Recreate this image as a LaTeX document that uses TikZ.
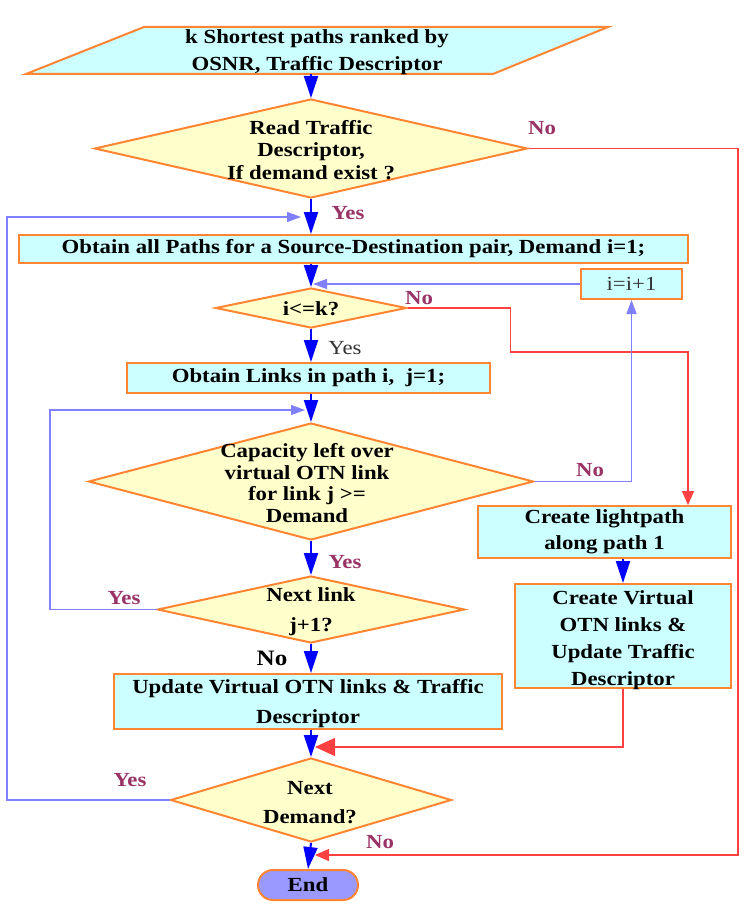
\documentclass[tikz,border=0pt]{standalone}
\usepackage{fontspec}
\setmainfont{Liberation Serif}[FakeStretch=1.14]
\usetikzlibrary{shapes.geometric,arrows.meta,calc}
\definecolor{boxfill}{HTML}{CCFFFF}
\definecolor{dfill}{HTML}{FFFFCC}
\definecolor{bord}{HTML}{FF8533}
\definecolor{mainblue}{HTML}{0000FF}
\definecolor{fbblue}{HTML}{8080FF}
\definecolor{redline}{HTML}{FF4040}
\definecolor{lab}{HTML}{993366}
\definecolor{endfill}{HTML}{9999FF}
\begin{document}
\begin{tikzpicture}[x=1pt,y=-1pt,
  txt/.style={inner sep=0pt, align=center, font=\fontsize{20}{22}\selectfont\bfseries},
  box/.style={draw=bord, line width=2pt, fill=boxfill, rectangle, inner sep=0pt, align=center, font=\fontsize{20}{22}\selectfont\bfseries},
  dec/.style={draw=bord, line width=2pt, fill=dfill, diamond, inner sep=0pt},
  mainarr/.style={draw=mainblue, line width=2pt, -{Triangle[width=14pt,length=22pt]}},
  fb/.style={draw=fbblue, line width=1.3pt, -{Triangle[width=10pt,length=14pt]}},
  redarr/.style={draw=redline, line width=1.3pt, -{Triangle[width=12pt,length=14pt]}},
  redbig/.style={draw=redline, line width=1.3pt, -{Triangle[width=18pt,length=20pt]}},
  lbl/.style={text=lab, inner sep=0pt, font=\fontsize{20}{22}\selectfont\bfseries},
  plainlbl/.style={text=black!80, inner sep=0pt, font=\fontsize{20}{22}\selectfont},
  blacklbl/.style={text=black, inner sep=0pt, font=\fontsize{22}{24}\selectfont\bfseries}]
\fill[white] (0,0) rectangle (746,915);
\path[use as bounding box] (0,0) rectangle (746,915);

% input parallelogram
\draw[draw=bord, line width=2pt, fill=boxfill] (144,27) -- (608,27) -- (493,74) -- (26,74) -- cycle;
\node[txt, font=\fontsize{20}{27}\selectfont\bfseries] (inp) at (317,52) {k Shortest paths ranked by\\OSNR, Traffic Descriptor};
\coordinate (inpB) at (311,74);

% nodes
\node[dec, minimum width=433, minimum height=99] (d1) at (311,148.5) {};
\node[txt, font=\fontsize{20}{22.5}\selectfont\bfseries] (t1) at (311,150) {Read Traffic\\Descriptor,\\If demand exist ?};

\node[box, minimum width=669, minimum height=28] (box1) at (353.5,249) {Obtain all Paths for a Source-Destination pair, Demand i=1;};

\node[box, minimum width=101, minimum height=30, font=\fontsize{20}{22}\selectfont, text=black!80] (inc) at (631.5,284) {i=i+1};

\node[dec, minimum width=191, minimum height=40] (d2) at (311,308) {};
\node[txt] (t2) at (311,309) {i<=k?};

\node[box, minimum width=363, minimum height=30] (box2) at (308.5,378) {Obtain Links in path i,\ \ j=1;};

\node[dec, minimum width=445, minimum height=117] (d3) at (311,481.5) {};
\node[txt, font=\fontsize{20}{21.7}\selectfont\bfseries] (t3) at (307,483) {Capacity left over\\virtual OTN link\\for link j >=\\Demand};

\node[box, minimum width=253, minimum height=52, font=\fontsize{20}{26}\selectfont\bfseries] (light) at (604.5,532) {Create lightpath\\along path 1};

\node[box, minimum width=216, minimum height=104] (virt) at (623,636) {};
\node[txt, font=\fontsize{20}{27}\selectfont\bfseries] (tv) at (623,640) {Create Virtual\\OTN links \&\\Update Traffic\\Descriptor};

\node[dec, minimum width=307, minimum height=67] (d4) at (311,609.5) {};
\node[txt, font=\fontsize{20}{30}\selectfont\bfseries] (t4) at (311,612) {Next link\\j+1?};

\node[box, minimum width=388, minimum height=55] (upd) at (308,701.5) {};
\node[txt, font=\fontsize{20}{30}\selectfont\bfseries] (tu) at (308,704) {Update Virtual OTN links \& Traffic\\Descriptor};

\node[dec, minimum width=281, minimum height=84] (d5) at (311,800) {};
\node[txt, font=\fontsize{20}{29}\selectfont\bfseries] (t5) at (310,803) {Next\\Demand?};

\node[draw=bord, line width=2pt, fill=endfill, rounded corners=15pt, minimum width=100, minimum height=30, inner sep=0pt, font=\fontsize{20}{22}\selectfont\bfseries] (end) at (308,885) {End};

% coordinates for bends
\coordinate (r1) at (738,855);
\coordinate (rk) at (688,352);
\coordinate (lpc) at (50,410);
\coordinate (lc) at (7,217);
\coordinate (rm) at (315,747);

% connectors
\draw[mainarr] (inpB) -- (d1.north);
\draw[mainarr] (d1.south) -- (d1.south |- box1.north);
\node[lbl] (y1) at (348,213) {Yes};
\draw[redarr] (d1.east) -- (d1.east -| r1) -- (r1) -- ([xshift=4pt]d5.south |- r1);
\node[lbl] (n1) at (542,128) {No};

\draw[mainarr] (box1.south -| d2.north) -- (d2.north);
\draw[fb] (inc.west) -- ([xshift=2pt]inc.west -| d2.north);

\draw[redarr] (d2.east) -- ++(103,0) |- (rk) -- (rk |- light.north);
\node[lbl] (n2) at (419,298) {No};

\draw[mainarr] (d2.south) -- (box2.north -| d2.south);
\node[plainlbl] (y2) at (345,348) {Yes};

\draw[mainarr] (box2.south -| d3.north) -- (d3.north);
\draw[fb] (d3.east) -- (d3.east -| inc.south) -- (inc.south);
\node[lbl] (n3) at (590,470) {No};

\draw[mainarr] (d3.south) -- (d4.north);
\node[lbl] (y3) at (345,562) {Yes};

\draw[fb] (d4.west) -| (lpc) -- ([xshift=-6pt]lpc -| d3.north);
\node[lbl] (y4) at (124,598) {Yes};

\draw[mainarr] (d4.south) -- (upd.north -| d4.south);
\node[blacklbl] (n4) at (272,658) {No};

\draw[mainarr] (virt.north |- light.south) -- (virt.north);
\draw[mainarr] (upd.south -| d5.north) -- (d5.north);
\draw[redbig] (virt.south) |- (rm);

\draw[fb] (d5.west) -| (lc) -- ([xshift=-10pt]lc -| d1.south);
\node[lbl] (y5) at (130,780) {Yes};

\draw[mainarr] (d5.south) -- (end.north);
\node[lbl] (n5) at (380,842) {No};
\end{tikzpicture}
\end{document}
